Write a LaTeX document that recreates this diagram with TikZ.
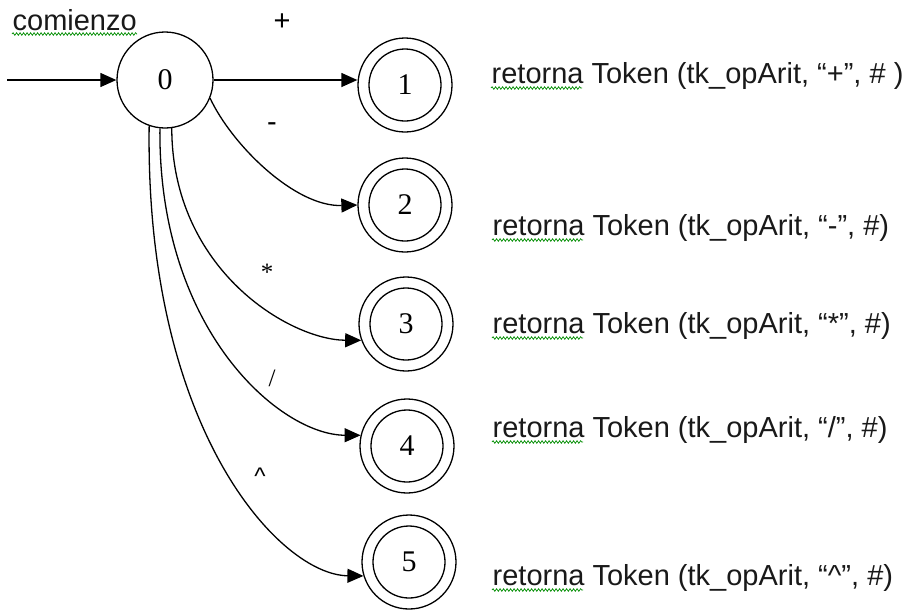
\documentclass[tikz,border=0pt]{standalone}
\usepackage{fontspec}
\setmainfont{Liberation Sans}
\newfontfamily\numfont{Liberation Serif}
\usetikzlibrary{arrows.meta,decorations.pathmorphing}
\begin{document}
\begin{tikzpicture}[x=1pt,y=1pt,
  every path/.style={line width=1.3pt},
  arr/.style={draw=black,line width=1.3pt,-{Triangle[length=16pt,width=14pt]}},
  plainstate/.style={circle,draw,line width=1.3pt,minimum size=96pt,inner sep=0pt,font=\numfont\fontsize{30}{32}\selectfont},
  accstate/.style={circle,draw,line width=1.3pt,minimum size=94pt,inner sep=0pt,font=\numfont\fontsize{30}{32}\selectfont,
    path picture={\draw[line width=1.3pt] (path picture bounding box.center) circle (36pt);}},
  txt/.style={anchor=base west,inner sep=0pt,font=\fontsize{29}{31}\selectfont,text=black!90},
  lblsans/.style={inner sep=0pt,font=\fontsize{29}{31}\selectfont},
  lblserif/.style={inner sep=0pt,font=\numfont\fontsize{25}{27}\selectfont},
  wavy/.style={draw=green!55!black,line width=0.7pt,decorate,decoration={snake,amplitude=1.3pt,segment length=3.5pt}}
]
\useasboundingbox (0,0) rectangle (912,-614);

% states
\node[plainstate] (n0) at (165,-80) {0};
\node[accstate] (n1) at (405,-85) {1};
\node[accstate] (n2) at (405,-205) {2};
\node[accstate] (n3) at (406,-324) {3};
\node[accstate] (n4) at (407,-446) {4};
\node[accstate] (n5) at (409,-562) {5};

% start
\node[txt] (com) at (12,-30) {comienzo};
\coordinate (s) at (7,-80);
\draw[arr] (s) -- (n0.west);

% transitions
\draw[arr] (n0.east) -- (n0.east -| n1.west);
\draw[arr] (n0.-22) .. controls (232,-145) and (295,-207) .. (n2.west);
\draw[arr] (n0.-82) .. controls (172,-270) and (290,-340) .. (n3.200);
\draw[arr] (n0.-96) .. controls (158,-330) and (280,-435) .. (n4.167);
\draw[arr] (n0.-109) .. controls (145,-430) and (280,-575) .. (n5.197);

% edge labels
\node[lblsans] (lp) at (282,-22) {+};
\node[lblsans] (lm) at (272,-127) {-};
\node[lblserif] (la) at (267,-272) {*};
\node[lblserif] (ls) at (272,-378) {/};
\node[lblsans,font=\fontsize{24}{26}\selectfont] (lc) at (260,-476) {\textasciicircum};

% outputs
\node[txt] (t1) at (491,-83) {retorna Token (tk\_opArit, “+”, \# )};
\node[txt] (t2) at (492,-235) {retorna Token (tk\_opArit, “-”, \#)};
\node[txt] (t3) at (492,-333) {retorna Token (tk\_opArit, “*”, \#)};
\node[txt] (t4) at (492,-437) {retorna Token (tk\_opArit, “/”, \#)};
\node[txt] (t5) at (492,-585) {retorna Token (tk\_opArit, “\textasciicircum”, \#)};

% spell-check underlines
\draw[wavy] ([yshift=-4pt]com.base west) -- ++(125,0);
\draw[wavy] ([yshift=-5pt]t1.base west) -- ++(91,0);
\draw[wavy] ([yshift=-5pt]t2.base west) -- ++(91,0);
\draw[wavy] ([yshift=-5pt]t3.base west) -- ++(91,0);
\draw[wavy] ([yshift=-5pt]t4.base west) -- ++(91,0);
\draw[wavy] ([yshift=-5pt]t5.base west) -- ++(91,0);
\end{tikzpicture}
\end{document}
